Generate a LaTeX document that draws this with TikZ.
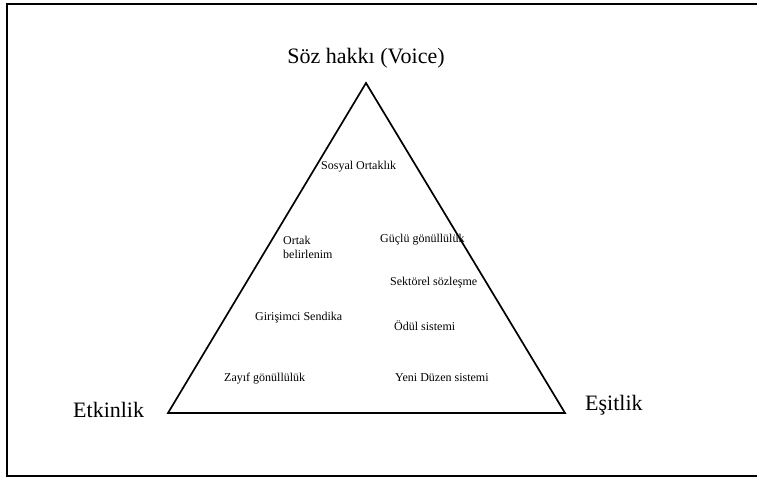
\documentclass[tikz,border=0pt]{standalone}
\usepackage{fontspec}
\setmainfont{Liberation Serif}
\begin{document}
\begin{tikzpicture}[x=1pt,y=-1pt,
  big/.style={inner sep=0pt,font=\fontsize{22}{26}\selectfont},
  small/.style={inner sep=0pt,anchor=west,font=\fontsize{12}{14}\selectfont},
  edge/.style={line width=1.7pt,line join=miter,line cap=rect},
  frame/.style={line width=1.6pt}]
\useasboundingbox (0,0) rectangle (757,477);
\draw[frame] (757,4) -- (7,4) -- (7,476) -- (757,476);
\coordinate (apex) at (366,83);
\coordinate (bl) at (168,413);
\coordinate (br) at (565,413);
\draw[edge] (apex) -- (bl) -- (br) -- cycle;
\node[big] (voice) at (366,58) {Söz hakkı (Voice)};
\node[big,anchor=west] (etk) at (73,410) {Etkinlik};
\node[big,anchor=west] (esit) at (585,405) {Eşitlik};
\node[small] (sos) at (321,167) {Sosyal Ortaklık};
\node[small,align=left] (ort) at (283,247) {Ortak\\belirlenim};
\node[small] (guc) at (380,240) {Güçlü gönüllülük};
\node[small] (sek) at (390,283) {Sektörel sözleşme};
\node[small] (gir) at (255,318) {Girişimci Sendika};
\node[small] (odul) at (394,326) {Ödül sistemi};
\node[small] (zay) at (224,379) {Zayıf gönüllülük};
\node[small] (yeni) at (395,378) {Yeni Düzen sistemi};
\end{tikzpicture}
\end{document}
